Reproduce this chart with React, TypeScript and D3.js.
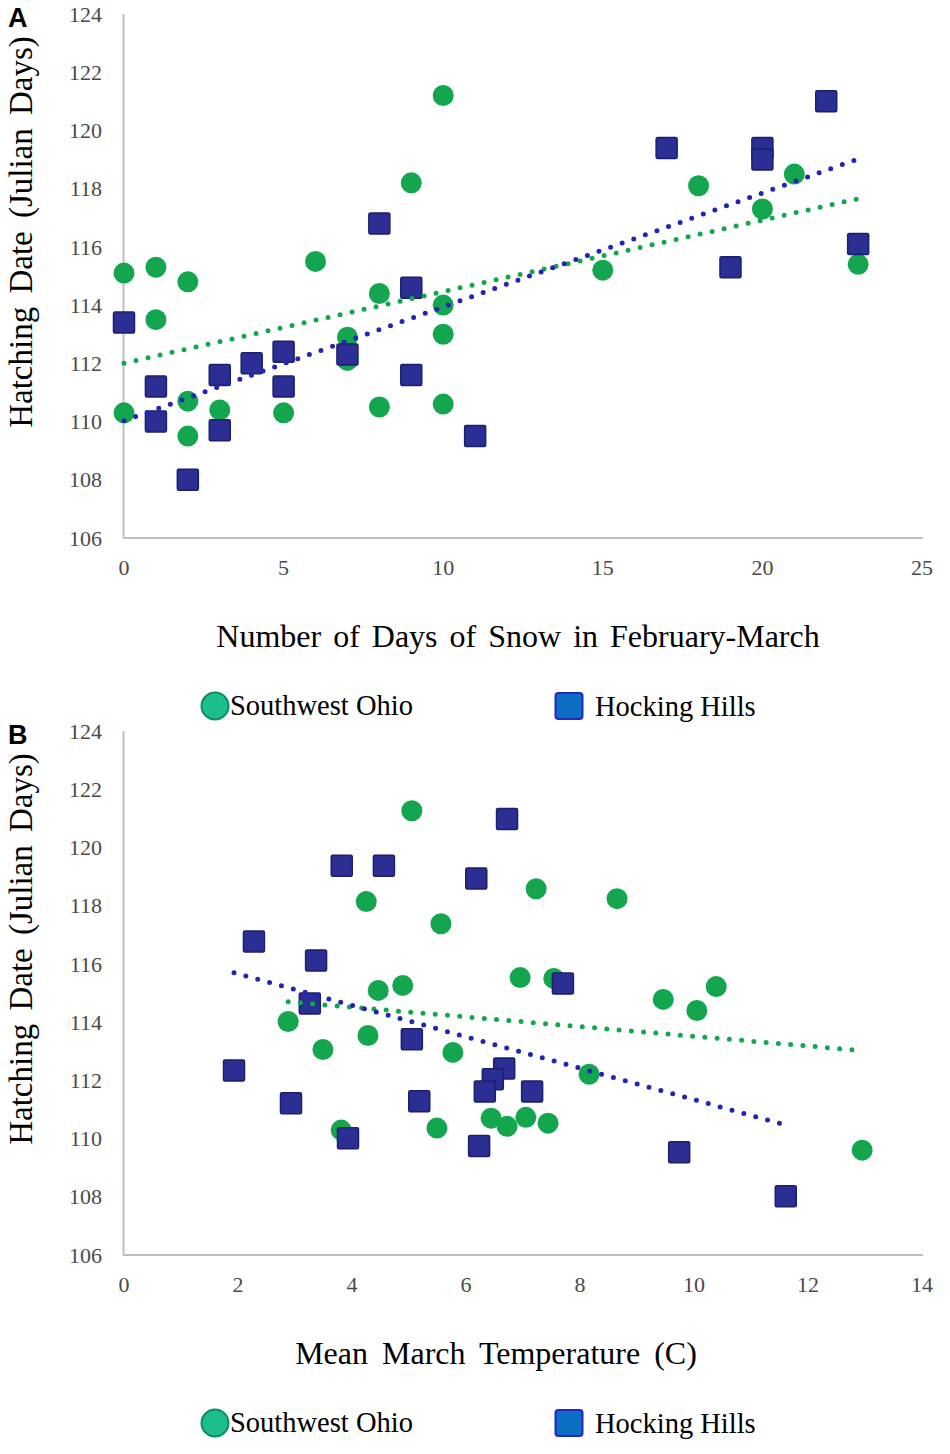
import React from "react";
import * as d3 from "d3";

// ---------- Data ----------
const yTicks = [106, 108, 110, 112, 114, 116, 118, 120, 122, 124];

// Panel A: number of days of snow in Feb-March
const snowTicks = [0, 5, 10, 15, 20, 25];
const snowOhioX = [0, 0, 1, 1, 2, 2, 2, 3, 5, 6, 7, 7, 8, 8, 9, 10, 10, 10, 10, 15, 18, 20, 21, 23];
const snowOhioY = [115.1, 110.3, 115.3, 113.5, 114.8, 110.7, 109.5, 110.4, 110.3, 115.5, 112.9, 112.1, 114.4, 110.5, 118.2, 121.2, 114.0, 113.0, 110.6, 115.2, 118.1, 117.3, 118.5, 115.4];
const snowHockX = [0, 1, 1, 2, 3, 3, 4, 5, 5, 7, 8, 9, 9, 11, 17, 19, 20, 20, 22, 23];
const snowHockY = [113.4, 111.2, 110.0, 108.0, 111.6, 109.7, 112.0, 112.4, 111.2, 112.3, 116.8, 114.6, 111.6, 109.5, 119.4, 115.3, 119.4, 119.0, 121.0, 116.1];

// Panel B: mean March temperature (C)
const tempTicks = [0, 2, 4, 6, 8, 10, 12, 14];
const tempOhioX = [5.05, 4.25, 7.23, 8.65, 5.56, 6.95, 7.54, 4.46, 4.89, 9.46, 10.05, 10.39, 2.88, 4.28, 3.49, 5.77, 8.16, 3.81, 5.49, 6.44, 6.72, 7.05, 7.44, 12.95];
const tempOhioY = [121.26, 118.14, 118.58, 118.24, 117.38, 115.53, 115.5, 115.09, 115.26, 114.78, 114.4, 115.22, 114.02, 113.54, 113.06, 112.96, 112.21, 110.29, 110.36, 110.7, 110.42, 110.73, 110.53, 109.6];
const tempHockX = [6.72, 3.82, 4.56, 6.18, 2.28, 3.37, 7.7, 3.26, 5.05, 1.93, 6.67, 6.47, 6.33, 2.93, 5.18, 7.16, 3.93, 6.23, 9.74, 11.61];
const tempHockY = [120.98, 119.37, 119.37, 118.93, 116.77, 116.12, 115.33, 114.64, 113.41, 112.34, 112.41, 112.04, 111.62, 111.21, 111.28, 111.62, 110.01, 109.74, 109.53, 108.02];

const seriesNames = ["Southwest Ohio", "Hocking Hills"];

// ---------- Styles ----------
const SERIF = "'Liberation Serif', 'Times New Roman', serif";
const SANS = "'Liberation Sans', Arial, sans-serif";
const GREEN = "#13a64f";
const NAVY = "#2b2e93";
const NAVY_STROKE = "#1c1f6b";
const BLUE_LINE = "#2323b5";
const AXIS = "#bfbfbf";
const TICK_TEXT = "#4a4a4a";

function fitLine(xs: number[], ys: number[]) {
  const mx = d3.mean(xs) as number;
  const my = d3.mean(ys) as number;
  let sxy = 0;
  let sxx = 0;
  xs.forEach((x, i) => {
    sxy += (x - mx) * (ys[i] - my);
    sxx += (x - mx) * (x - mx);
  });
  const slope = sxy / sxx;
  const intercept = my - slope * mx;
  const [x0, x1] = d3.extent(xs) as [number, number];
  return [
    [x0, intercept + slope * x0],
    [x1, intercept + slope * x1],
  ] as [number, number][];
}

type PanelProps = {
  top: number;
  letter: string;
  xTicks: number[];
  xMax: number;
  xTitle: string;
  xTitleX: number;
  xTitleSpacing: number;
  ohioX: number[];
  ohioY: number[];
  hockX: number[];
  hockY: number[];
};

function Panel(p: PanelProps) {
  const left = 124;
  const right = 922;
  const plotTop = p.top;
  const plotBottom = p.top + 524;
  const x = d3.scaleLinear().domain([0, p.xMax]).range([left, right]);
  const y = d3.scaleLinear().domain([106, 124]).range([plotBottom, plotTop]);
  const line = d3
    .line<[number, number]>()
    .x((d) => x(d[0]))
    .y((d) => y(d[1]));

  const ohio = p.ohioX.map((v, i) => [v, p.ohioY[i]] as [number, number]);
  const hock = p.hockX.map((v, i) => [v, p.hockY[i]] as [number, number]);
  const ohioFit = fitLine(p.ohioX, p.ohioY);
  const hockFit = fitLine(p.hockX, p.hockY);
  const sq = 21;

  return (
    <g>
      <text x={8} y={p.top + 13} fontFamily={SANS} fontWeight="bold" fontSize={27} fill="#000">
        {p.letter}
      </text>
      {/* axes */}
      <line x1={left - 0.5} x2={left - 0.5} y1={plotTop} y2={plotBottom} stroke={AXIS} strokeWidth={2} />
      <line x1={left - 1} x2={right + 1} y1={plotBottom} y2={plotBottom} stroke={AXIS} strokeWidth={2} />
      {yTicks.map((t) => (
        <text key={"y" + t} x={102} y={y(t)} dy="0.35em" textAnchor="end" fontFamily={SERIF} fontSize={22} fill={TICK_TEXT}>
          {t}
        </text>
      ))}
      {p.xTicks.map((t) => (
        <text key={"x" + t} x={x(t)} y={plotBottom + 37} textAnchor="middle" fontFamily={SERIF} fontSize={22} fill={TICK_TEXT}>
          {t}
        </text>
      ))}
      {/* titles */}
      <text
        transform={`translate(32, ${p.top + 218}) rotate(-90)`}
        textAnchor="middle"
        fontFamily={SERIF}
        fontSize={33}
        fill="#000"
        wordSpacing={5}
      >
        Hatching Date (Julian Days)
      </text>
      <text
        x={p.xTitleX}
        y={plotBottom + 109}
        textAnchor="middle"
        fontFamily={SERIF}
        fontSize={32}
        fill="#000"
        wordSpacing={p.xTitleSpacing}
      >
        {p.xTitle}
      </text>
      {/* markers */}
      {ohio.map((d, i) => (
        <circle key={"o" + i} cx={x(d[0])} cy={y(d[1])} r={10.5} fill={GREEN} />
      ))}
      {hock.map((d, i) => (
        <rect
          key={"h" + i}
          x={x(d[0]) - sq / 2}
          y={y(d[1]) - sq / 2}
          width={sq}
          height={sq}
          rx={1.5}
          fill={NAVY}
          stroke={NAVY_STROKE}
          strokeWidth={1.5}
        />
      ))}
      {/* trend lines */}
      <path d={line(ohioFit) || ""} fill="none" stroke={GREEN} strokeWidth={5} strokeLinecap="round" strokeDasharray="0 12.3" />
      <path d={line(hockFit) || ""} fill="none" stroke={BLUE_LINE} strokeWidth={5} strokeLinecap="round" strokeDasharray="0 12.3" />
      {/* legend */}
      <g transform={`translate(0, ${plotBottom + 168})`}>
        <circle cx={215} cy={0} r={13.5} fill="#1cbf8b" stroke="#0e8c62" strokeWidth={2} />
        <text x={230} y={9} fontFamily={SERIF} fontSize={28.5} fill="#000">
          {seriesNames[0]}
        </text>
        <rect x={555.5} y={-13} width={27} height={26} rx={3} fill="#0b6ec3" stroke="#2326c4" strokeWidth={2} />
        <text x={595} y={10} fontFamily={SERIF} fontSize={28.5} fill="#000">
          {seriesNames[1]}
        </text>
      </g>
    </g>
  );
}

export default function App() {
  return (
    <div style={{ position: "absolute", left: 0, top: 0 }}>
      <svg width={950} height={1454} viewBox="0 0 950 1454" style={{ display: "block", background: "#fff" }}>
        <rect x={0} y={0} width={950} height={1454} fill="#fff" />
        <Panel
          top={14}
          letter="A"
          xTicks={snowTicks}
          xMax={25}
          xTitle="Number of Days of Snow in February-March"
          xTitleX={518}
          xTitleSpacing={4}
          ohioX={snowOhioX}
          ohioY={snowOhioY}
          hockX={snowHockX}
          hockY={snowHockY}
        />
        <Panel
          top={731}
          letter="B"
          xTicks={tempTicks}
          xMax={14}
          xTitle="Mean March Temperature (C)"
          xTitleX={496}
          xTitleSpacing={6}
          ohioX={tempOhioX}
          ohioY={tempOhioY}
          hockX={tempHockX}
          hockY={tempHockY}
        />
      </svg>
    </div>
  );
}
